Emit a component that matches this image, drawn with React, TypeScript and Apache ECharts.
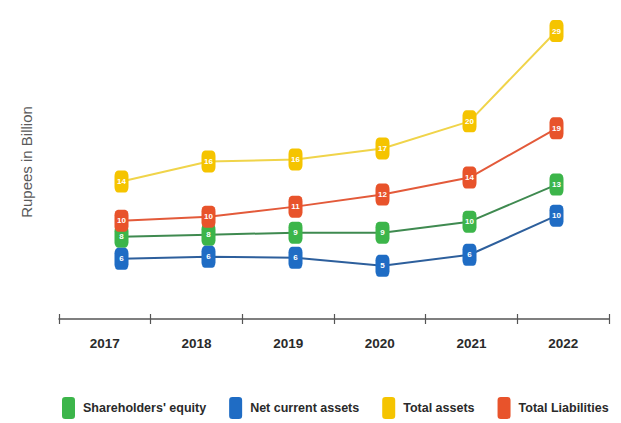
import React, { useEffect, useRef } from "react";
import * as echarts from "echarts";

const years = ["2017", "2018", "2019", "2020", "2021", "2022"];
const shareholdersEquity = [8.2, 8.4, 8.6, 8.6, 9.7, 13.4];
const netCurrentAssets = [6.0, 6.2, 6.1, 5.3, 6.4, 10.3];
const totalAssets = [13.7, 15.7, 15.9, 17.0, 19.7, 28.7];
const totalLiabilities = [9.8, 10.2, 11.2, 12.4, 14.1, 19.0];

const seriesDefs = [
  { name: "Shareholders' equity", data: shareholdersEquity, marker: "#3cb54a", line: "#3f8a50" },
  { name: "Net current assets", data: netCurrentAssets, marker: "#1f6cc4", line: "#2d5f9c" },
  { name: "Total assets", data: totalAssets, marker: "#f5c400", line: "#f0d44a" },
  { name: "Total Liabilities", data: totalLiabilities, marker: "#e8532b", line: "#e35a3a" },
];

export default function App() {
  const ref = useRef<HTMLDivElement>(null);
  useEffect(() => {
    if (!ref.current) return;
    const chart = echarts.init(ref.current, null, { renderer: "svg" });
    chart.setOption({
      animation: false,
      backgroundColor: "#ffffff",
      grid: [
        { left: 59, right: 12, top: 5, bottom: 104 },
        { left: 78, right: 21, top: 18, bottom: 104 },
      ],
      xAxis: [
        {
          type: "category",
          gridIndex: 0,
          data: years,
          boundaryGap: true,
          position: "bottom",
          axisLine: { show: true, lineStyle: { color: "#555", width: 1.5 } },
          axisTick: { show: true, length: 5, lineStyle: { color: "#555", width: 1.2 } },
          axisLabel: {
            color: "#2a2a2a",
            fontSize: 13.5,
            fontWeight: "bold",
            margin: 17,
            fontFamily: "Liberation Sans, Arial, sans-serif",
          },
        },
        {
          type: "category",
          gridIndex: 0,
          data: years,
          boundaryGap: true,
          position: "bottom",
          axisLine: { show: false },
          axisTick: { show: true, inside: true, length: 5, lineStyle: { color: "#555", width: 1.2 } },
          axisLabel: { show: false },
        },
        {
          type: "category",
          gridIndex: 1,
          data: years,
          boundaryGap: true,
          show: false,
        },
      ],
      yAxis: [
        {
          type: "value",
          gridIndex: 0,
          name: "Rupees in Billion",
          nameLocation: "middle",
          nameRotate: 90,
          nameGap: 25,
          nameTextStyle: { color: "#5a5a5a", fontSize: 15, fontFamily: "Liberation Sans, Arial, sans-serif" },
          axisLine: { show: false },
          axisTick: { show: false },
          axisLabel: { show: false },
          splitLine: { show: false },
        },
        {
          type: "value",
          gridIndex: 1,
          min: 0,
          max: 30,
          show: false,
          splitLine: { show: false },
        },
      ],
      legend: {
        left: 57,
        top: 392,
        itemWidth: 13,
        itemHeight: 22,
        itemGap: 23,
        icon: "roundRect",
        textStyle: {
          color: "#2a2a2a",
          fontSize: 12.5,
          fontWeight: "bold",
          padding: [0, 0, 0, 3],
          fontFamily: "Liberation Sans, Arial, sans-serif",
        },
        data: seriesDefs.map((s) => s.name),
      },
      series: seriesDefs.map((s) => ({
        name: s.name,
        type: "line",
        xAxisIndex: 2,
        yAxisIndex: 1,
        data: s.data,
        symbol: "roundRect",
        symbolSize: [14, 22],
        itemStyle: { color: s.marker },
        lineStyle: { color: s.line, width: 2 },
        label: {
          show: true,
          position: "inside",
          color: "#fff",
          fontSize: 8,
          fontWeight: "bold",
          formatter: (p: any) => String(Math.round(p.value)),
        },
      })),
    });
    return () => chart.dispose();
  }, []);
  return (
    <div
      ref={ref}
      style={{ position: "absolute", left: 0, top: 0, width: 621, height: 423 }}
    />
  );
}
